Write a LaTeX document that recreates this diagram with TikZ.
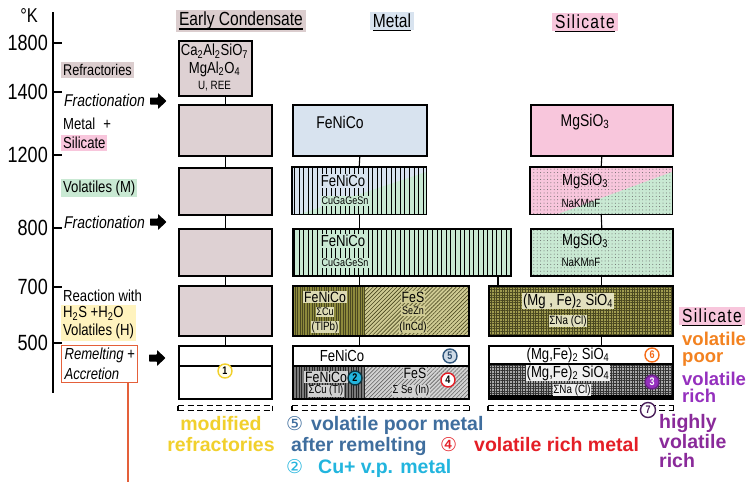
\documentclass[tikz,border=0pt]{standalone}
\usepackage{fontspec}
\setmainfont{Liberation Sans}
\newfontfamily\lett[FakeStretch=0.82]{Liberation Sans}
\newfontfamily\circfont{DejaVu Sans}
\usetikzlibrary{patterns.meta}
\newcommand\fsz[2]{\fontsize{#1}{#2}\selectfont}
\newcommand\sbs[1]{\textsubscript{#1}}
\newcommand\blockarrow[2]{\fill[black,rounded corners=0.6pt] (#1-8,#2-3.5) -- (#1,#2-3.5) -- (#1,#2-8) -- (#1+8.5,#2) -- (#1,#2+8) -- (#1,#2+3.5) -- (#1-8,#2+3.5) -- cycle;}

\definecolor{ecfill}{HTML}{DED1D3}
\definecolor{ecbg}{HTML}{DBCDCE}
\definecolor{mefill}{HTML}{D8E3EF}
\definecolor{sifill}{HTML}{F8C6DC}
\definecolor{grn}{HTML}{C9E9D3}
\definecolor{ylw}{HTML}{FFF3BE}
\definecolor{olvD}{HTML}{8D8A3C}
\definecolor{olvL}{HTML}{CFCB93}
\definecolor{olvM}{HTML}{A09C50}
\definecolor{olvLine}{HTML}{4A4820}
\definecolor{gryD}{HTML}{7A7A7A}
\definecolor{gryL}{HTML}{D2D2D2}
\definecolor{gryM}{HTML}{A8A8A8}
\definecolor{remred}{HTML}{E4603A}
\definecolor{cYel}{HTML}{F1D02C}
\definecolor{cBlue}{HTML}{3F6E9E}
\definecolor{cRed}{HTML}{E41E26}
\definecolor{cCyan}{HTML}{22B5DE}
\definecolor{cOrg}{HTML}{F38220}
\definecolor{cPur}{HTML}{9530BE}
\definecolor{cPurD}{HTML}{8A2A9A}
\definecolor{cPurS}{HTML}{4A1F5A}

\begin{document}
\begin{tikzpicture}[x=1pt,y=-1pt,
  cell/.style={inner sep=0pt,anchor=north west},
  panel/.style={inner sep=0pt,anchor=north west,draw=black,line width=1.6pt},
  boxframe/.style={draw=black,line width=1.6pt},
  link/.style={draw=black,line width=1.1pt},
  tx/.style={inner sep=0.8pt,font=\lett},
  rowlab/.style={inner sep=2pt,anchor=west,font=\lett\fsz{16}{18}},
  axtick/.style={draw=black,line width=1.1pt},
  num/.style={anchor=east,inner sep=0pt,font=\lett\fsz{22}{24}},
  hdr/.style={inner xsep=3pt,inner ysep=2.5pt,font=\lett\fsz{19}{21}},
  ul/.style={draw=black,line width=1.4pt},
  circ/.style={circle,inner sep=0pt,minimum size=14pt,line width=1.4pt,font=\lett\bfseries\fsz{11}{12}},
  note/.style={anchor=base west,inner sep=0pt,font=\bfseries\fsz{19.5}{21}},
  keynote/.style={anchor=base west,inner sep=0pt,font=\bfseries\fsz{18.5}{20}},
  notec/.style={anchor=base,inner sep=0pt,font=\bfseries\fsz{19.5}{21}},
  dashbar/.style={draw=black,line width=1.3pt,dash pattern=on 6pt off 3.5pt},
  vlinesfill/.style={pattern={Lines[angle=90,distance=4.6pt,line width=1pt]},pattern color=black},
  dotfill/.style={pattern={Dots[distance=3.4pt,radius=0.5pt]},pattern color=black!60},
  vlinespanel/.style={postaction={pattern={Lines[angle=90,distance=4.6pt,line width=1pt]},pattern color=black},postaction={draw}},
  dotpanel/.style={postaction={pattern={Dots[distance=3.4pt,radius=0.5pt]},pattern color=black!60},postaction={draw}},
  gridpanel/.style={postaction={pattern={Hatch[angle=0,distance=2.6pt,line width=0.55pt]},pattern color=#1},postaction={draw}},
]
\fill[white] (0,0) rectangle (746,482);
\useasboundingbox (0,0) rectangle (746,482);

% ---------- temperature axis
\coordinate (axT) at (53,12);
\coordinate (axB) at (53,393);
\draw[line width=1.2pt] (axT) -- (axB);
\node[inner sep=0pt,font=\lett\fsz{20}{22}] (unitK) at (29,16) {°K};
\foreach \t/\y in {1800/43,1400/92,1200/155,800/228,700/287,500/343}{
  \draw[axtick] (53,\y) -- (62,\y);
  \node[num] (n\t) at (48,\y) {\t};
}

% ---------- row labels
\node[rowlab,fill=ecbg,font=\lett\fsz{15.5}{17}] (lRef) at (61,70) {Refractories};
\node[rowlab,font=\lett\itshape\fsz{17}{19}] (lFrA) at (62,100) {Fractionation};
\node[rowlab] (lMet) at (61,124) {Metal\enspace+};
\node[rowlab,fill=sifill] (lSil) at (61,143) {Silicate};
\node[rowlab,fill=grn] (lVolM) at (61,188) {Volatiles (M)};
\node[rowlab,font=\lett\itshape\fsz{17}{19}] (lFrB) at (62,222) {Fractionation};
\node[rowlab] (lReac) at (61,296) {Reaction with};
\node[rowlab,fill=ylw,align=left] (lVolH) at (61,323) {H\sbs{2}S +H\sbs{2}O\\Volatiles (H)};
\node[rowlab,draw=remred,line width=1.1pt,align=left,font=\lett\itshape\fsz{16}{20},inner sep=3pt] (lRem) at (61,364) {Remelting +\\Accretion};
\coordinate (remEnd) at (128,482);
\draw[remred,line width=1.1pt] (lRem.south -| remEnd) -- (remEnd);

\blockarrow{158}{101}
\blockarrow{158}{222}
\blockarrow{157}{358}

% ---------- column headers
\node[hdr,fill=ecbg] (hEC) at (241,21) {Early Condensate};
\draw[ul] ([xshift=3pt,yshift=-3pt]hEC.base west) -- ([xshift=-3pt,yshift=-3pt]hEC.base east);
\node[hdr,fill=mefill] (hMe) at (392,21) {Metal};
\draw[ul] ([xshift=3pt,yshift=-3pt]hMe.base west) -- ([xshift=-3pt,yshift=-3pt]hMe.base east);
\node[hdr,fill=sifill,font=\lett\fsz{19}{21}\addfontfeature{LetterSpace=7}] (hSi) at (585,22) {Silicate};
\draw[ul] ([xshift=3pt,yshift=-3pt]hSi.base west) -- ([xshift=-3pt,yshift=-3pt]hSi.base east);

% ---------- early condensate column
\node[panel,fill=ecfill,minimum width=73pt,minimum height=55pt] (ref) at (178,40) {};
\node[tx,font=\lett\fsz{16}{18}] (tRefA) at (214.5,51) {Ca\sbs{2}Al\sbs{2}SiO\sbs{7}};
\node[tx,font=\lett\fsz{16}{18}] (tRefB) at (214.5,69) {MgAl\sbs{2}O\sbs{4}};
\node[tx,font=\lett\fsz{12}{14}] (tRefC) at (214.5,86) {U, REE};
\node[panel,fill=ecfill,minimum width=93pt,minimum height=51pt] (e1) at (178,104) {};
\node[panel,fill=ecfill,minimum width=93pt,minimum height=47pt] (e2) at (178,167) {};
\node[panel,fill=ecfill,minimum width=93pt,minimum height=47pt] (e3) at (178,228) {};
\node[panel,fill=ecfill,minimum width=93pt,minimum height=50pt] (e4) at (178,285) {};
\node[panel,fill=white,minimum width=93pt,minimum height=53pt] (e5) at (178,345) {};
\draw[line width=1.1pt] (178,366) -- (271,366);

% ---------- metal column
\node[panel,fill=mefill,minimum width=134pt,minimum height=51pt] (m1) at (292,104) {};
\node[tx,font=\lett\fsz{17}{19}] (tM1) at (340,122) {FeNiCo};

\node[cell,fill=mefill,minimum width=134pt,minimum height=47pt] (m2) at (292,167) {};
\fill[grn] (300,214) -- (426,214) -- (426,172) -- cycle;
\fill[vlinesfill] (m2.north west) rectangle (m2.south east);
\draw[boxframe] (m2.north west) rectangle (m2.south east);
\node[tx,fill=mefill,font=\lett\fsz{16}{18}] (tM2a) at (343,181) {FeNiCo};
\node[tx,fill=grn,font=\lett\fsz{11}{13}] (tM2b) at (345,201) {CuGaGeSn};

\node[panel,fill=grn,vlinespanel,minimum width=218pt,minimum height=47pt] (m3) at (292,228) {};
\node[tx,fill=grn,font=\lett\fsz{16}{18}] (tM3a) at (343,241) {FeNiCo};
\node[tx,fill=grn,font=\lett\fsz{11}{13}] (tM3b) at (345,263) {CuGaGeSn};

\node[cell,fill=olvD,minimum width=73pt,minimum height=50pt] (m4a) at (292,285) {};
\node[cell,fill=olvL,minimum width=103pt,minimum height=50pt] (m4b) at (365,285) {};
\fill[pattern={Lines[angle=90,distance=2.4pt,line width=0.8pt]},pattern color=olvLine] (m4a.north west) rectangle (m4a.south east);
\fill[pattern={Lines[angle=45,distance=2.8pt,line width=0.6pt]},pattern color=olvLine] (m4b.north west) rectangle (m4b.south east);
\node[panel,minimum width=176pt,minimum height=50pt] (m4) at (292,285) {};
\node[tx,fill=olvL!70!white,font=\lett\fsz{15}{17}] (tM4a) at (325,297) {FeNiCo};
\node[tx,fill=olvL!70!white,font=\lett\fsz{11}{13}] (tM4b) at (325,312) {ΣCu};
\node[tx,fill=olvL!70!white,font=\lett\fsz{12}{14}] (tM4c) at (325,327) {(TlPb)};
\node[tx,fill=olvL,font=\lett\fsz{15}{17}] (tM4d) at (413,297) {FeS};
\node[tx,fill=olvL,font=\lett\fsz{11}{13}] (tM4e) at (413,311) {SeZn};
\node[tx,fill=olvL,font=\lett\fsz{12}{14}] (tM4f) at (413,327) {(InCd)};

\node[cell,fill=gryD,minimum width=73pt,minimum height=32pt] (m5a) at (292,366) {};
\node[cell,fill=gryL,minimum width=103pt,minimum height=32pt] (m5b) at (365,366) {};
\fill[pattern={Lines[angle=90,distance=2.6pt,line width=0.7pt]},pattern color=black!85] (m5a.north west) rectangle (m5a.south east);
\fill[pattern={Lines[angle=45,distance=2.8pt,line width=0.6pt]},pattern color=black!60] (m5b.north west) rectangle (m5b.south east);
\node[panel,minimum width=176pt,minimum height=53pt] (m5) at (292,345) {};
\draw[line width=1.1pt] (292,366) -- (468,366);
\node[tx,font=\lett\fsz{16}{18}] (tM5a) at (342,356) {FeNiCo};
\node[tx,fill=gray!35,font=\lett\fsz{15}{17}] (tM5b) at (326,377) {FeNiCo};
\node[tx,fill=gray!35,font=\lett\fsz{11.5}{13}] (tM5c) at (326,391) {ΣCu (Tl)};
\node[tx,fill=gryL,font=\lett\fsz{15}{17}] (tM5d) at (415,373) {FeS};
\node[tx,fill=gryL,font=\lett\fsz{11.5}{13}] (tM5e) at (411,391) {Σ Se (In)};

% ---------- silicate column
\node[panel,fill=sifill,minimum width=142pt,minimum height=51pt] (s1) at (530,104) {};
\node[tx,font=\lett\fsz{17}{19}] (tS1) at (585,122) {MgSiO\sbs{3}};

\node[cell,fill=sifill,minimum width=142pt,minimum height=47pt] (s2) at (530,167) {};
\fill[grn] (558,214) -- (672,214) -- (672,172) -- cycle;
\fill[dotfill] (s2.north west) rectangle (s2.south east);
\draw[boxframe] (s2.north west) rectangle (s2.south east);
\node[tx,font=\lett\fsz{16}{18}] (tS2a) at (585,181) {MgSiO\sbs{3}};
\node[tx,font=\lett\fsz{12}{14}] (tS2b) at (581,203) {NaKMnF};

\node[panel,fill=grn,dotpanel,minimum width=142pt,minimum height=47pt] (s3) at (530,228) {};
\node[tx,font=\lett\fsz{16}{18}] (tS3a) at (585,241) {MgSiO\sbs{3}};
\node[tx,font=\lett\fsz{12}{14}] (tS3b) at (581,262) {NaKMnF};

\node[panel,fill=olvM,gridpanel=olvLine,minimum width=184pt,minimum height=50pt] (s4) at (488,285) {};
\node[tx,fill=olvL!60!white,font=\lett\fsz{16}{18}] (tS4a) at (568,301) {(Mg , Fe)\sbs{2} SiO\sbs{4}};
\node[tx,fill=olvL!60!white,font=\lett\fsz{12}{14}] (tS4b) at (568,321) {ΣNa (Cl)};

\node[cell,fill=gryM,minimum width=184pt,minimum height=34pt] (s5a) at (488,364) {};
\fill[pattern={Hatch[angle=0,distance=2.6pt,line width=0.5pt]},pattern color=black!80] (s5a.north west) rectangle (s5a.south east);
\node[panel,minimum width=184pt,minimum height=53pt] (s5) at (488,345) {};
\draw[line width=1.1pt] (488,364) -- (672,364);
\fill[black] (488,395) rectangle (672,398.5);
\node[tx,font=\lett\fsz{16}{18}] (tS5a) at (568,355) {(Mg,Fe)\sbs{2} SiO\sbs{4}};
\node[tx,fill=white!88!gray,font=\lett\fsz{16}{18}] (tS5b) at (568,373) {(Mg,Fe)\sbs{2} SiO\sbs{4}};
\node[tx,fill=white!88!gray,font=\lett\fsz{12}{14}] (tS5c) at (572,390) {ΣNa (Cl)};

% ---------- connectors
\draw[link] (e1.north |- ref.south) -- (e1.north);
\draw[link] (e1.south) -- (e2.north);
\draw[link] (e2.south) -- (e3.north);
\draw[link] (e3.south) -- (e4.north);
\draw[link] (e4.south) -- (e5.north);
\draw[link] (m1.south) -- (m2.north);
\draw[link] (m2.south) -- (m2.south |- m3.north);
\draw[link] (m3.south -| m1.south) -- (m4.north -| m1.south);
\draw[link] (m4.south -| m1.south) -- (m5.north -| m1.south);
\coordinate (jx) at (498,0);
\draw[link] (m3.south -| jx) -- (s4.north -| jx);
\draw[link] (s1.south) -- (s2.north);
\draw[link] (s2.south) -- (s3.north);
\draw[link] (s3.south) -- (s3.south |- s4.north);
\draw[link] (s3.south |- s4.south) -- (s3.south |- s5.north);

% ---------- dashed bars below the remelted bodies
\foreach \b in {e5,m5,s5}{
  \draw[dashbar] ([yshift=-6pt]\b.south west) -- ([yshift=-6pt]\b.south east);
  \draw[dashbar] ([yshift=-11pt]\b.south west) -- ([yshift=-11pt]\b.south east);
  \draw[line width=1.3pt] ([yshift=-6pt]\b.south west) -- ([yshift=-11pt]\b.south west);
  \draw[line width=1.3pt] ([yshift=-6pt]\b.south east) -- ([yshift=-11pt]\b.south east);
}

% ---------- numbered markers
\node[circ,draw=cYel,fill=yellow!8,text=black] (c1) at (225,371) {1};
\node[circ,draw=cBlue!80!black,fill=cBlue!25!white,text=cBlue!70!black] (c5) at (450,356) {5};
\node[circ,draw=black!70!cCyan,fill=cCyan,text=black] (c2) at (355,378) {2};
\node[circ,draw=cRed,fill=white,text=black] (c4) at (448,380) {4};
\node[circ,draw=cOrg!85!red,fill=white,text=cOrg!80!red] (c6) at (652,355) {6};
\node[circ,draw=cPur!70!black,fill=cPur,text=white] (c3) at (652,382) {3};
\node[circ,draw=cPurS,fill=white,text=cPurS,minimum size=15pt] (c7) at (648,410) {7};

% ---------- right-hand key
\node[hdr,fill=sifill,font=\lett\fsz{19}{21}\addfontfeature{LetterSpace=7}] (kSi) at (712,316) {Silicate};
\draw[ul] ([xshift=3pt,yshift=-3pt]kSi.base west) -- ([xshift=-3pt,yshift=-3pt]kSi.base east);
\node[keynote,text=cOrg,text depth=0pt] (kO1) at (682,345) {volatile};
\node[keynote,text=cOrg,text height=1.1ex] (kO2) at (682,362) {poor};
\node[keynote,text=cPur,text depth=0pt] (kP1) at (682,385) {volatile};
\node[keynote,text=cPur] (kP2) at (682,402) {rich};
\node[note,text=cPurD] (kH1) at (659,428) {highly};
\node[note,text=cPurD] (kH2) at (659,448) {volatile};
\node[note,text=cPurD] (kH3) at (659,467) {rich};

% ---------- bottom key
\node[notec,text=cYel] (kM1) at (221,430) {modified};
\node[notec,text=cYel] (kM2) at (221,451) {refractories};
\node[note,text=cBlue,font=\circfont\fsz{19}{21}] (kV5) at (286,430) {⑤};
\node[note,text=cBlue] (kVa) at (311,430) {volatile poor metal};
\node[note,text=cBlue] (kVb) at (291,451) {after remelting};
\node[note,text=cRed,font=\circfont\fsz{19}{21}] (kV4) at (440,451) {④};
\node[note,text=cRed] (kVr) at (474,451) {volatile rich metal};
\node[note,text=cCyan,font=\circfont\fsz{19}{21}] (kV2) at (286,473) {②};
\node[note,text=cCyan] (kCu) at (318,473) {Cu+ v.p. metal};
\end{tikzpicture}
\end{document}
